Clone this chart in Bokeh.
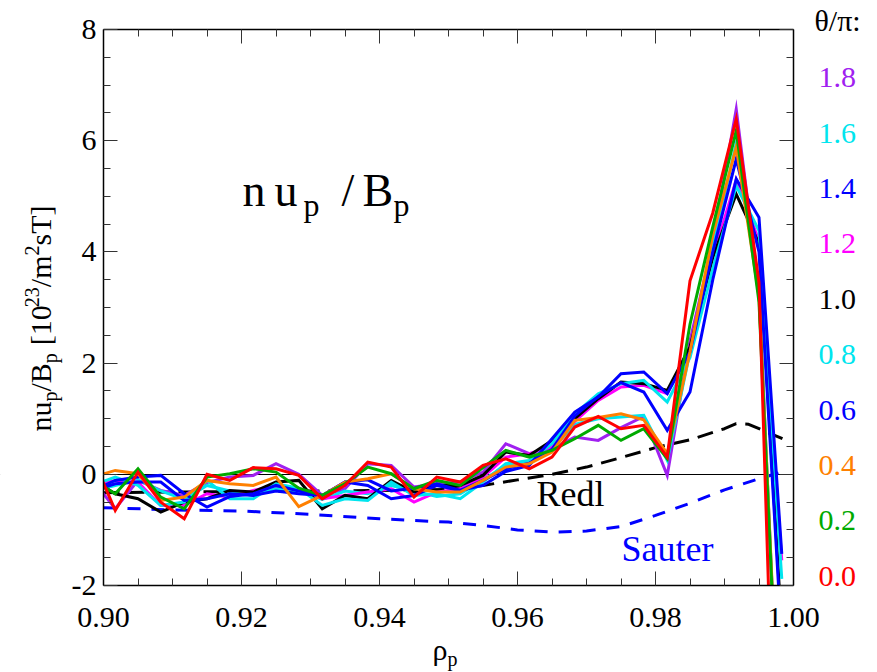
import numpy as np
from bokeh.plotting import figure
from bokeh.models import Range1d, LinearAxis, FixedTicker, Label, PrintfTickFormatter, BoxAnnotation
from bokeh.embed import file_html
from bokeh.resources import INLINE

# ---------------- data ----------------
rho = [0.8984, 0.9017, 0.9050, 0.9083, 0.9117, 0.9150, 0.9183, 0.9217, 0.9250, 0.9283,
       0.9317, 0.9350, 0.9383, 0.9417, 0.9450, 0.9483, 0.9517, 0.9550, 0.9583, 0.9617,
       0.9650, 0.9683, 0.9717, 0.9750, 0.9783, 0.9817, 0.9850, 0.9883, 0.9917, 0.9950, 0.9983]

theta_00 = [0.30, -0.65, 0.04, -0.50, -0.80, 0.00, -0.11, 0.12, 0.10, -0.02, -0.44, -0.20, 0.22, 0.13, -0.41, -0.05,
            -0.14, 0.16, 0.28, 0.10, 0.31, 0.85, 1.04, 0.82, 0.88, 0.31, 3.48, 4.70, 6.39, 3.45, -9.7]
theta_02 = [-0.10, -0.35, 0.10, -0.41, -0.62, -0.05, 0.01, 0.10, 0.04, -0.25, -0.38, -0.17, 0.13, 0.01, -0.26, -0.11,
            -0.20, 0.12, 0.43, 0.31, 0.43, 0.64, 0.88, 0.61, 0.82, 0.28, 2.70, 4.45, 6.18, 3.10, -6.0]
theta_04 = [-0.05, 0.07, 0.01, -0.47, -0.41, -0.11, -0.17, -0.20, -0.05, -0.58, -0.38, -0.14, -0.08, 0.01, -0.26, -0.32,
            -0.32, -0.11, 0.13, 0.19, 0.40, 0.97, 1.02, 1.09, 0.98, 0.37, 2.20, 4.30, 5.88, 3.20, -5.8]
theta_06 = [-0.30, -0.11, -0.05, -0.02, -0.35, -0.59, -0.40, -0.35, -0.20, -0.30, -0.38, -0.14, -0.20, -0.44, -0.38, -0.20,
            -0.29, -0.20, 0.05, 0.16, 0.64, 1.12, 1.39, 1.81, 1.84, 1.45, 2.20, 4.00, 5.67, 4.00, -3.0]
theta_08 = [-0.20, -0.05, -0.20, -0.56, -0.50, -0.11, -0.44, -0.44, -0.17, -0.25, -0.56, -0.44, -0.47, -0.14, -0.38, -0.35,
            -0.44, -0.14, 0.19, 0.25, 0.55, 1.09, 1.45, 1.63, 1.69, 1.30, 2.10, 3.70, 5.19, 4.38, -1.88]
theta_10 = [-0.10, -0.35, -0.44, -0.68, -0.50, -0.44, -0.29, -0.32, -0.14, -0.11, -0.62, -0.38, -0.44, -0.11, -0.32, -0.20,
            -0.20, -0.02, 0.40, 0.34, 0.61, 1.00, 1.36, 1.66, 1.63, 1.51, 2.29, 3.90, 5.04, 4.15, -2.8]
theta_12 = [-0.20, -0.11, -0.14, -0.56, -0.56, -0.35, -0.41, -0.29, -0.20, -0.25, -0.44, -0.38, -0.32, -0.26, -0.50, -0.32,
            -0.26, -0.05, 0.31, 0.37, 0.50, 0.95, 1.33, 1.57, 1.60, 1.45, 2.30, 3.90, 5.30, 4.20, -1.55]
theta_14 = [-0.30, -0.17, -0.14, -0.14, -0.47, -0.44, -0.35, -0.38, -0.30, -0.35, -0.38, -0.14, -0.10, -0.30, -0.25, -0.17,
            -0.29, -0.11, 0.10, 0.20, 0.45, 1.05, 1.40, 1.65, 1.48, 0.79, 1.48, 3.50, 5.31, 4.62, -1.43]
theta_16 = [-0.30, -0.20, -0.10, -0.30, -0.45, -0.20, -0.30, -0.38, -0.25, -0.30, -0.45, -0.30, -0.35, -0.20, -0.30, -0.40,
            -0.35, -0.10, 0.15, 0.22, 0.45, 0.90, 1.00, 1.03, 1.06, 0.25, 2.20, 4.10, 5.95, 3.30, -6.0]
theta_18 = [-0.10, -0.62, -0.11, -0.29, -0.38, -0.15, -0.05, -0.02, 0.19, 0.00, -0.38, -0.26, 0.19, 0.16, -0.23, -0.17,
            -0.14, 0.04, 0.55, 0.37, 0.45, 0.67, 0.61, 0.84, 1.04, -0.02, 2.40, 4.15, 6.57, 3.30, -6.0]

redl_x = [0.900, 0.910, 0.920, 0.930, 0.940, 0.950, 0.955, 0.960, 0.965, 0.970, 0.975, 0.980, 0.985, 0.990, 0.9917, 0.9935, 0.9984]
redl_y = [-0.33, -0.32, -0.31, -0.30, -0.29, -0.27, -0.20, -0.10, 0.00, 0.13, 0.30, 0.48, 0.62, 0.82, 0.91, 0.90, 0.64]

sauter_x = [0.900, 0.910, 0.920, 0.930, 0.940, 0.950, 0.955, 0.960, 0.965, 0.970, 0.975, 0.980, 0.985, 0.990, 0.995, 0.998]
sauter_y = [-0.60, -0.64, -0.66, -0.72, -0.80, -0.86, -0.92, -1.00, -1.04, -1.02, -0.94, -0.74, -0.52, -0.28, -0.08, 0.03]

zero_level = [0.0]

theta_labels = ["0.0", "0.2", "0.4", "0.6", "0.8", "1.0", "1.2", "1.4", "1.6", "1.8"]
theta_colors = ["#ff0000", "#00aa00", "#ff8000", "#0000ff", "#00e5ee",
                "#000000", "#ff00ff", "#0000ff", "#00e5ee", "#a020f0"]
series = [theta_00, theta_02, theta_04, theta_06, theta_08, theta_10, theta_12, theta_14, theta_16, theta_18]

x_major = [0.90, 0.92, 0.94, 0.96, 0.98, 1.00]
x_minor = [0.905, 0.91, 0.915, 0.925, 0.93, 0.935, 0.945, 0.95, 0.955, 0.965, 0.97, 0.975, 0.985, 0.99, 0.995]
y_major = [-2, 0, 2, 4, 6, 8]
y_minor = [-1.5, -1, -0.5, 0.5, 1, 1.5, 2.5, 3, 3.5, 4.5, 5, 5.5, 6.5, 7, 7.5]

# ---------------- geometry ----------------
FONT = "Liberation Serif"
W, H = 877, 672
L, R, T, B = 103, 793, 29, 585          # plot box in page pixels
XMIN, XMAX, YMIN, YMAX = 0.90, 1.00, -2.0, 8.0
SX = (R - L) / (XMAX - XMIN)             # px per x unit
SY = (B - T) / (YMAX - YMIN)             # px per y unit
X0, X1 = XMIN - L / SX, XMAX + (W - R) / SX
Y1, Y0 = YMAX + T / SY, YMIN - (H - B) / SY
BASE = 0.33                              # label anchor -> baseline offset (em)

def dx(px):
    return X0 + px / SX

def dy(py):
    return Y1 - py / SY

p = figure(width=W, height=H, x_range=Range1d(X0, X1), y_range=Range1d(Y0, Y1),
           x_axis_type=None, y_axis_type=None, output_backend="svg", toolbar_location=None,
           min_border=0, min_border_left=0, min_border_right=0, min_border_top=0, min_border_bottom=0)
p.xgrid.visible = False
p.ygrid.visible = False
p.outline_line_color = None
p.background_fill_color = "white"
p.border_fill_color = "white"

# zero line (under the curves)
p.hspan(y=zero_level, line_color="black", line_width=1.2)

# model curves
p.line(redl_x, redl_y, line_color="black", line_width=3, line_dash="16 9")
p.line(sauter_x, sauter_y, line_color="#0000ff", line_width=3, line_dash="13 11")

# theta series
order = [9, 8, 6, 5, 4, 3, 7, 2, 1, 0]
for i in order:
    p.line(rho, series[i], line_color=theta_colors[i], line_width=3, line_join="miter")

# white masks outside the plot box (clip curves to the box); they reach past the canvas edges
ex, ey = 30 / SX, 30 / SY
p.quad(left=[X0 - ex, XMAX, XMIN, XMIN], right=[XMIN, X1 + ex, XMAX, XMAX],
       bottom=[Y0 - ey, Y0 - ey, YMAX, Y0 - ey], top=[Y1 + ey, Y1 + ey, Y1 + ey, YMIN],
       fill_color="white", line_color=None)

# ---------------- axes forming the box ----------------
def style_axis(ax, major, minor, show_labels, standoff):
    ax.ticker = FixedTicker(ticks=major, minor_ticks=minor)
    ax.major_tick_in = 14
    ax.major_tick_out = 0
    ax.minor_tick_in = 7
    ax.minor_tick_out = 0
    ax.major_tick_line_color = "#333333"
    ax.minor_tick_line_color = "#333333"
    ax.axis_line_color = "black"
    ax.axis_line_width = 1.5
    ax.major_label_standoff = standoff
    if show_labels:
        ax.major_label_text_font = FONT
        ax.major_label_text_font_size = "30px"
        ax.major_label_text_color = "black"
    else:
        ax.major_label_text_font_size = "0px"
        ax.major_label_text_color = None

xax = LinearAxis(fixed_location=YMIN, bounds=(XMIN, XMAX))
style_axis(xax, x_major, x_minor, True, 22)
xax.formatter = PrintfTickFormatter(format="%.2f")
p.add_layout(xax, "below")

yax = LinearAxis(fixed_location=XMIN, bounds=(YMIN, YMAX))
style_axis(yax, y_major, y_minor, True, 7)
yax.formatter = PrintfTickFormatter(format="%d")
p.add_layout(yax, "left")

top_ax = LinearAxis(fixed_location=YMAX, bounds=(XMIN, XMAX))
style_axis(top_ax, x_major, x_minor, False, 0)
p.add_layout(top_ax, "above")

right_ax = LinearAxis(fixed_location=XMAX, bounds=(YMIN, YMAX))
style_axis(right_ax, y_major, y_minor, False, 0)
p.add_layout(right_ax, "right")

# cover a stray rendering artefact at the far-left page edge
p.add_layout(BoxAnnotation(left=X0 - ex, right=dx(20), bottom=dy(560), top=dy(440),
                           fill_color="white", fill_alpha=1.0, line_color=None, level="overlay"))

# ---------------- texts ----------------
def lab(px, py, text, size, color="black"):
    # (px, py): left end of the text baseline in page pixels
    p.add_layout(Label(x=dx(px), y=dy(py - BASE * size), text=text, text_font=FONT,
                       text_font_size=f"{size}px", text_color=color,
                       text_align="left", text_baseline="alphabetic"))

def vlab(px, py, text, size, color="black"):
    # rotated 90 deg: baseline is a vertical line at px, text starts at py going up
    p.add_layout(Label(x=dx(px - BASE * size), y=dy(py), text=text, text_font=FONT,
                       text_font_size=f"{size}px", text_color=color,
                       text_align="left", text_baseline="alphabetic", angle=np.pi / 2))

# big title n u_p / B_p
lab(242, 205, "n", 46)
lab(274, 205, "u", 46)
lab(303, 215, "p", 32)
lab(341, 205, "/", 46)
lab(362, 205, "B", 46)
lab(393, 215, "p", 32)

# model labels
lab(536, 505, "Redl", 36)
lab(621, 560, "Sauter", 36, "#0000ff")

# y-axis label (rotated, composed of pieces): (text, size, baseline shift, gap before)
widths = {"n": .5, "u": .5, "p": .5, "/": .278, "B": .667, "[": .333, "]": .333,
          "1": .5, "0": .5, "2": .5, "3": .5, "m": .778, "s": .389, "T": .611}
pieces = [("nu", 30, 0, 0), ("p", 20, 6, 0), ("/B", 30, 0, 0), ("p", 20, 6, 0), ("[10", 30, 0, 8),
          ("23", 20, -12, -2), ("/m", 30, 0, 0), ("2", 20, -12, 0), ("sT]", 30, 0, 0)]
ypos = 431.0
for txt, size, shift, gap in pieces:
    ypos -= gap
    vlab(50 + shift, ypos, txt, size)
    ypos -= sum(widths[c] for c in txt) * size

# x-axis label rho_p
lab(432, 659, "\u03c1", 30)
lab(447, 665, "p", 20)

# theta legend
lab(814, 30, "\u03b8/\u03c0:", 30)
for k in range(10):
    idx = 9 - k
    lab(818, 87 + k * 55.4, theta_labels[idx], 30, theta_colors[idx])

open("out.html", "w").write(file_html(p, INLINE))
